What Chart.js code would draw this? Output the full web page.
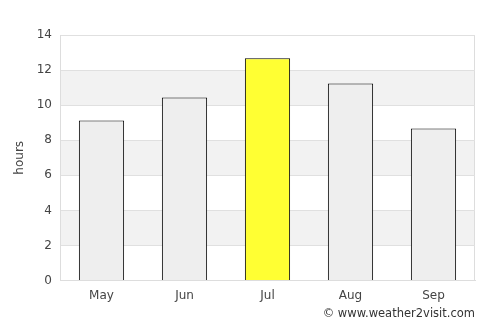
<!DOCTYPE html>
<html>
<head>
<meta charset="utf-8">
<script src="https://cdn.jsdelivr.net/npm/chart.js@4/dist/chart.umd.min.js"></script>
<style>
  html, body { margin: 0; padding: 0; background: #fff; }
</style>
</head>
<body>
<canvas id="sunChart" width="500" height="325"></canvas>
<script>
const months = ['May', 'Jun', 'Jul', 'Aug', 'Sep'];
const sunHours = [9.13, 10.44, 12.67, 11.24, 8.67];
const barColors = ['#eeeeee', '#eeeeee', '#ffff33', '#eeeeee', '#eeeeee'];
const yTicks = [0, 2, 4, 6, 8, 10, 12, 14];

// alternating grey bands behind the bars, plus a thin frame
const bandPlugin = {
    id: 'bands',
    beforeDraw(chart) {
        const { ctx, chartArea, scales } = chart;
        const y = scales.y;
        ctx.save();
        ctx.fillStyle = '#f2f2f2';
        for (let i = 1; i < yTicks.length - 1; i += 2) {
            const top = y.getPixelForValue(yTicks[i + 1]);
            const bottom = y.getPixelForValue(yTicks[i]);
            ctx.fillRect(chartArea.left, top, chartArea.right - chartArea.left, bottom - top);
        }
        ctx.strokeStyle = '#dddddd';
        ctx.lineWidth = 1;
        ctx.beginPath();
        ctx.moveTo(Math.round(chartArea.right) - 0.5, chartArea.top);
        ctx.lineTo(Math.round(chartArea.right) - 0.5, chartArea.bottom);
        ctx.stroke();
        ctx.restore();
    }
};

const creditPlugin = {
    id: 'credit',
    afterDraw(chart) {
        const ctx = chart.ctx;
        ctx.save();
        ctx.font = '11.5px "DejaVu Sans"';
        ctx.fillStyle = '#333';
        ctx.textAlign = 'right';
        ctx.textBaseline = 'middle';
        ctx.fillText('\u00a9 www.weather2visit.com', 475, 314);
        ctx.restore();
    }
};

const ctx = document.getElementById('sunChart').getContext('2d');
new Chart(ctx, {
    type: 'bar',
    data: {
        labels: months,
        datasets: [{
            data: sunHours,
            backgroundColor: barColors,
            borderColor: '#000',
            borderWidth: 1,
            barPercentage: 0.545,
            categoryPercentage: 1
        }]
    },
    options: {
        responsive: false,
        animation: false,
        layout: { padding: { top: 35, right: 25, bottom: 14, left: 13 } },
        plugins: { legend: { display: false }, tooltip: { enabled: false } },
        scales: {
            x: {
                grid: { display: false, drawTicks: false },
                border: { color: '#dddddd' },
                ticks: { color: '#444', font: { family: 'DejaVu Sans', size: 12 }, padding: 8 }
            },
            y: {
                min: 0,
                max: 14,
                afterFit(scale) { scale.width = 47; },
                afterBuildTicks(scale) { scale.ticks = yTicks.map(v => ({ value: v })); },
                grid: { color: '#e0e0e0', drawTicks: false },
                border: { color: '#dddddd' },
                ticks: { color: '#444', font: { family: 'DejaVu Sans', size: 12 }, padding: 8 },
                title: { display: true, text: 'hours', color: '#444', font: { family: 'DejaVu Sans', size: 12 }, padding: 0 }
            }
        }
    },
    plugins: [bandPlugin, creditPlugin]
});
</script>
</body>
</html>
